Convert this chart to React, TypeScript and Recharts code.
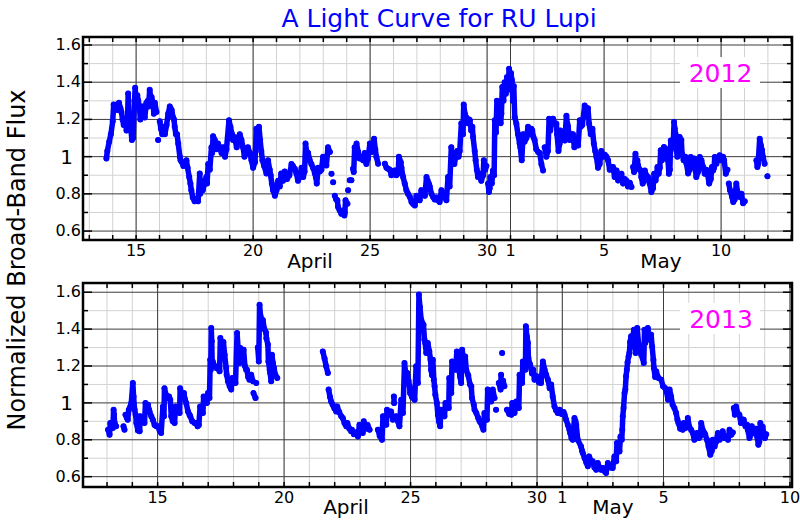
import React from "react";
import { LineChart, Line, XAxis, YAxis, ReferenceLine, ReferenceArea } from "recharts";

// time = day of April (May 1 = 31), flux = normalized broad-band flux
type Pt = [number, number | null];

const run2012a: Pt[] = [
  [13.73, 0.99], [13.77, 1.03], [13.85, 1.08], [13.92, 1.12], [14.0, 1.19], [14.04, 1.28], [14.1, 1.25], [14.17, 1.28],
  [14.22, 1.25], [14.27, 1.29], [14.33, 1.26], [14.37, 1.24], [14.42, 1.2], [14.47, 1.17], [14.53, 1.2], [14.59, 1.14],
  [14.63, 1.18], [14.66, 1.34], [14.68, 1.23], [14.73, 1.18], [14.78, 1.14], [14.82, 1.09], [14.87, 1.1], [14.93, 1.3],
  [14.96, 1.37], [15.0, 1.29], [15.05, 1.33], [15.09, 1.3], [15.14, 1.27], [15.18, 1.2], [15.23, 1.23], [15.3, 1.27],
  [15.37, 1.21], [15.44, 1.29], [15.5, 1.3], [15.53, 1.27], [15.58, 1.36], [15.62, 1.32], [15.66, 1.32], [15.72, 1.29],
  [15.76, 1.23], [15.8, 1.29], [15.87, 1.24], [15.9, null], [15.94, 1.09], [15.98, null], [16.01, 1.19], [16.06, 1.15],
  [16.12, 1.12], [16.18, 1.16], [16.23, 1.12], [16.3, 1.17], [16.37, 1.23], [16.44, 1.27], [16.47, 1.26], [16.52, 1.25],
  [16.58, 1.21], [16.62, 1.2], [16.65, 1.16], [16.7, 1.12], [16.75, 1.12], [16.8, 1.07], [16.87, 1.0], [16.9, 0.98],
  [16.96, 0.97], [17.02, 0.95], [17.08, 0.96], [17.15, 0.98], [17.2, 0.94], [17.27, 0.89], [17.32, 0.855], [17.36, 0.82],
  [17.42, 0.78], [17.5, 0.76], [17.58, 0.77], [17.65, 0.76], [17.72, 0.91], [17.74, 0.8], [17.79, 0.87], [17.85, 0.82],
  [17.93, 0.86], [18.0, 0.89], [18.03, 0.855], [18.08, 0.96], [18.15, 0.93], [18.22, 1.05], [18.25, 1.02], [18.29, 1.11],
  [18.36, 1.09], [18.43, 1.04], [18.5, 1.07], [18.57, 1.05], [18.65, 1.02], [18.72, 1.05], [18.8, 1.0], [18.86, 1.04],
  [18.97, 1.195], [19.03, 1.16], [19.1, 1.12], [19.14, 1.09], [19.2, 1.105], [19.3, 1.05], [19.36, 1.1], [19.43, 1.12],
  [19.5, 1.09], [19.57, 1.05], [19.63, 1.0], [19.7, 1.03], [19.78, 1.05], [19.86, 1.02], [19.93, 0.98], [20.0, 0.94],
  [20.08, 0.97],
];

const run2012b: Pt[] = [
  [20.14, 1.15], [20.2, 1.105], [20.25, 1.16], [20.3, 1.09], [20.35, 1.03], [20.4, 0.98], [20.47, 0.95], [20.57, 0.91],
  [20.64, 0.98], [20.71, 0.93], [20.75, 0.9], [20.8, 0.855], [20.85, 0.82], [20.93, 0.79], [21.0, 0.82], [21.07, 0.87],
  [21.14, 0.84], [21.2, 0.91], [21.28, 0.87], [21.35, 0.92], [21.45, 0.88], [21.55, 0.9], [21.64, 0.96], [21.7, 0.95],
  [21.78, 0.935], [21.85, 0.91], [21.92, 0.87], [21.99, 0.89], [22.07, 0.94], [22.14, 0.89], [22.2, 0.92], [22.24, 1.07],
  [22.28, 1.03], [22.35, 1.02], [22.42, 0.98], [22.49, 0.96], [22.56, 0.94], [22.64, 0.91], [22.68, 0.89], [22.72, 0.855],
  [22.78, 0.94], [22.85, 0.92], [22.92, 0.93], [22.99, 1.0], [23.06, 0.97], [23.13, 0.953], [23.2, 1.05], [23.28, 1.025],
  [23.31, null], [23.35, 0.908], [23.39, null], [23.42, 0.863], [23.46, null], [23.49, 0.79], [23.55, 0.77], [23.6, 0.765],
  [23.63, 0.73], [23.7, 0.71], [23.77, 0.693], [23.85, 0.71], [23.9, 0.684], [23.92, 0.7], [23.95, 0.765], [24.03, 0.747],
  [24.045, null], [24.06, 0.82], [24.09, null], [24.13, 0.873], [24.2, 0.873], [24.23, null], [24.27, 0.935], [24.3, 0.917],
  [24.34, 1.05], [24.38, 1.016], [24.42, 1.07], [24.49, 1.025], [24.55, 0.99], [24.62, 1.0], [24.7, 0.98], [24.77, 1.02],
  [24.84, 0.96], [24.91, 0.99], [24.99, 1.07], [25.06, 1.025], [25.13, 1.05], [25.17, 1.096], [25.22, 1.04], [25.27, 0.998],
  [25.34, 0.962], [25.45, null], [25.63, 0.962], [25.7, 0.94], [25.77, 0.935], [25.84, 0.93], [25.91, 0.9], [25.98, 0.92],
  [26.05, 0.926], [26.12, 0.9], [26.2, 0.91], [26.23, 1.0], [26.31, 0.97], [26.34, 0.94], [26.41, 0.89], [26.48, 0.855],
  [26.55, 0.82], [26.62, 0.8], [26.7, 0.783], [26.77, 0.756], [26.84, 0.745], [26.91, 0.738], [26.98, 0.79], [27.05, 0.77],
  [27.12, 0.765], [27.19, 0.82], [27.26, 0.8], [27.34, 0.79], [27.41, 0.89], [27.46, 0.87], [27.51, 0.855], [27.55, 0.84],
  [27.62, 0.8], [27.69, 0.783],
];

const run2012c: Pt[] = [
  [27.76, 0.77], [27.83, 0.78], [27.9, 0.765], [27.97, 0.756], [28.05, 0.82], [28.12, 0.78], [28.19, 0.8], [28.26, 0.765],
  [28.33, 0.89], [28.4, 0.84], [28.47, 1.05], [28.5, 0.96], [28.54, 1.02], [28.6, 0.96], [28.66, 1.0], [28.72, 1.03],
  [28.78, 1.0], [28.83, 1.03], [28.9, 1.18], [28.97, 1.12], [29.0, 1.28], [29.05, 1.23], [29.11, 1.21], [29.18, 1.18],
  [29.23, 1.2], [29.26, 1.195], [29.32, 1.14], [29.37, 1.16], [29.4, 1.105], [29.47, 1.03], [29.51, 0.98], [29.56, 0.93],
  [29.61, 0.89], [29.66, 0.91], [29.75, 0.87], [29.83, 0.9], [29.86, 0.98], [29.92, 0.93], [29.97, 0.95], [30.0, null],
  [30.04, 0.855], [30.08, 0.81], [30.11, 0.83], [30.14, 0.89], [30.2, 0.855], [30.25, 0.926], [30.3, 0.9], [30.33, 1.195],
  [30.38, 1.13], [30.42, 1.3], [30.48, 1.21], [30.54, 1.25], [30.58, 1.18], [30.61, 1.23], [30.65, 1.374], [30.7, 1.3],
  [30.75, 1.4], [30.8, 1.338], [30.85, 1.428], [30.9, 1.36], [30.94, 1.473], [30.98, 1.39], [31.02, 1.45], [31.06, 1.41],
  [31.1, 1.3], [31.14, 1.38], [31.18, 1.213], [31.25, 1.177], [31.32, 1.12], [31.39, 1.07], [31.42, 1.05], [31.48, 0.98],
  [31.54, 1.12], [31.6, 1.08], [31.68, 1.1], [31.75, 1.16], [31.82, 1.12], [31.89, 1.15], [31.93, 1.14], [31.98, 1.105],
  [32.03, 1.09], [32.1, 1.04], [32.18, 1.025], [32.25, 1.02], [32.32, 0.96], [32.39, 0.926], [32.42, null], [32.46, 1.05],
  [32.53, 1.0], [32.6, 1.03], [32.65, 1.204], [32.7, 1.14], [32.76, 1.19], [32.82, 1.204], [32.89, 1.18], [32.96, 1.177],
  [32.99, 1.12], [33.05, 1.03], [33.1, 1.07], [33.13, 1.14], [33.2, 1.09], [33.26, 1.12], [33.32, 1.087], [33.39, 1.22],
  [33.43, 1.177], [33.46, 1.16], [33.53, 1.09], [33.6, 1.12], [33.67, 1.12], [33.73, 1.05], [33.8, 1.09], [33.89, 1.06],
  [33.96, 1.195], [34.0, 1.16], [34.07, 1.17], [34.17, 1.275], [34.24, 1.22], [34.31, 1.26], [34.36, 1.177], [34.43, 1.12],
  [34.5, 1.15], [34.56, 1.07], [34.62, 1.03], [34.67, 1.0], [34.74, 0.94], [34.81, 0.96], [34.88, 1.03], [34.95, 1.0],
  [35.03, 1.01], [35.1, 1.0],
];

const run2012d: Pt[] = [
  [35.17, 0.98], [35.24, 0.93], [35.31, 0.944], [35.38, 0.944], [35.45, 0.89], [35.53, 0.926], [35.6, 0.872], [35.67, 0.9],
  [35.74, 0.908], [35.81, 0.855], [35.88, 0.88], [35.95, 0.872], [36.02, 0.84], [36.1, 0.86], [36.17, 0.837], [36.2, null],
  [36.24, 0.944], [36.28, 0.917], [36.34, 1.016], [36.38, 0.96], [36.42, 0.98], [36.45, 0.953], [36.52, 0.93], [36.57, 0.926],
  [36.59, 0.89], [36.65, 0.855], [36.71, 0.87], [36.74, 0.926], [36.8, 0.9], [36.88, 0.89], [36.95, 0.855], [37.02, 0.81],
  [37.09, 0.83], [37.14, 0.908], [37.2, 0.872], [37.24, 0.9], [37.28, 0.944], [37.33, 0.908], [37.38, 0.94], [37.42, 1.034],
  [37.47, 0.98], [37.52, 1.0], [37.56, 1.052], [37.62, 1.0], [37.67, 1.04], [37.71, 0.998], [37.73, 0.98], [37.77, 0.908],
  [37.81, 0.93], [37.85, 1.087], [37.9, 1.06], [37.95, 1.052], [37.99, 1.186], [38.02, 1.15], [38.05, 1.123], [38.09, 1.034],
  [38.13, 1.0], [38.16, 1.02], [38.23, 1.105], [38.27, 1.07], [38.3, 1.09], [38.33, 1.016], [38.4, 0.98], [38.47, 1.0],
  [38.52, 0.962], [38.59, 0.91], [38.66, 0.93], [38.7, 0.998], [38.77, 0.962], [38.85, 0.99], [38.87, 0.962], [38.94, 0.89],
  [39.02, 0.92], [39.09, 0.998], [39.13, 0.962], [39.16, 0.98], [39.23, 0.944], [39.3, 0.908], [39.37, 0.93], [39.42, 0.908],
  [39.49, 0.855], [39.56, 0.88], [39.61, 0.944], [39.66, 0.926], [39.7, 0.94], [39.73, 0.998], [39.8, 0.962], [39.87, 0.99],
  [39.94, 1.007], [40.01, 0.98], [40.08, 1.0], [40.13, 0.98], [40.2, 0.908], [40.27, 0.93], [40.3, null], [40.33, 0.855],
  [40.38, 0.82], [40.44, 0.801], [40.47, 0.783], [40.52, 0.756], [40.58, 0.77], [40.65, 0.855], [40.72, 0.8], [40.8, 0.783],
  [40.87, 0.801], [40.94, 0.75], [41.01, 0.76], [41.2, null], [41.51, 0.98], [41.55, 0.944], [41.58, 0.96], [41.65, 1.096],
  [41.7, 1.06], [41.75, 1.034], [41.79, 0.998], [41.86, 0.962], [41.92, null], [41.98, 0.894],
];

const run2013a: Pt[] = [
  [13.04, 0.855], [13.1, 0.827], [13.13, 0.891], [13.18, 0.87], [13.23, 0.864], [13.26, 0.963], [13.28, 0.936], [13.3, 0.891],
  [13.36, 0.873], [13.5, null], [13.65, 0.873], [13.69, 0.855], [13.71, null], [13.73, 0.936], [13.78, 0.92], [13.82, 0.909],
  [13.86, 0.963], [13.92, 0.98], [13.96, 1.0], [14.02, 1.108], [14.05, 1.035], [14.09, 0.963], [14.13, 0.936], [14.16, 0.891],
  [14.22, 0.85], [14.29, 0.846], [14.31, 0.927], [14.38, 0.9], [14.43, 0.91], [14.48, 0.891], [14.52, 0.999], [14.58, 0.97],
  [14.62, 0.99], [14.66, 0.963], [14.68, 0.954], [14.75, 0.927], [14.81, 0.909], [14.88, 0.88], [14.95, 0.873], [15.01, 0.873],
  [15.08, 0.85], [15.14, 0.837], [15.21, 0.981], [15.25, 0.927], [15.27, 1.08], [15.34, 1.04], [15.41, 1.026], [15.45, 1.035],
  [15.5, 1.017], [15.54, 0.927], [15.6, 0.9], [15.67, 0.891], [15.71, 0.981], [15.78, 0.95], [15.87, 0.945], [15.89, 1.08],
  [15.95, 1.05], [16.0, 1.035], [16.04, 1.053], [16.08, 1.02], [16.13, 0.999], [16.2, 0.954], [16.26, 0.936], [16.29, 0.927],
  [16.37, 0.9], [16.46, 0.891], [16.53, 0.891], [16.58, 0.873], [16.63, 0.88], [16.68, 0.981], [16.73, 0.95], [16.79, 0.945],
  [16.82, 1.035], [16.88, 1.0], [16.95, 0.999], [16.99, 1.053], [17.05, 1.026], [17.08, 1.234], [17.1, 1.18], [17.12, 1.406],
  [17.14, 1.334], [17.16, 1.2], [17.18, 1.225], [17.25, 1.2], [17.32, 1.189], [17.38, 1.189], [17.45, 1.171], [17.48, 1.352],
  [17.55, 1.29], [17.6, 1.33], [17.65, 1.261], [17.71, 1.189], [17.73, 1.153], [17.78, 1.117], [17.85, 1.09], [17.91, 1.072],
  [17.95, 1.135], [18.02, 1.11], [18.08, 1.108], [18.14, 1.379], [18.18, 1.3], [18.24, 1.216], [18.27, 1.297], [18.32, 1.25],
  [18.37, 1.234], [18.4, 1.288], [18.45, 1.2], [18.5, 1.18], [18.53, 1.18], [18.58, 1.14], [18.63, 1.126], [18.7, 1.153],
  [18.77, 1.117], [18.78, null], [18.79, 1.053], [18.87, 1.026], [18.88, null], [18.9, 1.108], [18.93, null],
];

const run2013b: Pt[] = [
  [18.96, 1.3], [19.0, 1.225], [19.03, 1.532], [19.07, 1.47], [19.12, 1.415], [19.16, 1.45], [19.22, 1.4], [19.29, 1.38],
  [19.3, 1.35], [19.36, 1.316], [19.38, 1.225], [19.43, 1.18], [19.45, 1.162], [19.49, 1.117], [19.52, 1.261], [19.56, 1.216],
  [19.6, 1.189], [19.66, 1.15], [19.73, 1.135], [20.5, null], [21.53, 1.279], [21.6, 1.24], [21.66, 1.2], [21.73, 1.162],
  [21.745, null], [21.76, 1.072], [21.82, 1.03], [21.86, 1.008], [21.92, 0.99], [21.99, 0.97], [22.06, 0.954], [22.1, 0.981],
  [22.18, 0.95], [22.26, 0.927], [22.32, 0.918], [22.39, 0.89], [22.46, 0.873], [22.5, 0.891], [22.58, 0.86], [22.65, 0.846],
  [22.68, 0.855], [22.76, 0.83], [22.84, 0.84], [22.92, 0.818], [22.98, 0.882], [23.05, 0.85], [23.11, 0.837], [23.15, 0.9],
  [23.22, 0.86], [23.3, 0.88], [23.38, 0.855], [23.5, null], [23.71, 0.855], [23.78, 0.82], [23.87, 0.8], [23.91, 0.927],
  [23.98, 0.9], [24.04, 0.882], [24.07, 0.963], [24.12, 0.95], [24.17, 0.936], [24.23, 0.954], [24.3, 0.909], [24.32, null],
  [24.34, 1.035], [24.35, 0.999], [24.38, null], [24.43, 0.927], [24.5, 0.9], [24.56, 0.873], [24.63, 1.017], [24.7, 0.945],
  [24.76, 1.216], [24.8, 1.17], [24.83, 1.126], [24.87, 1.162], [24.92, 1.12], [24.96, 1.09], [24.98, 1.053], [25.06, 1.03],
  [25.16, 1.017], [25.22, 1.198], [25.29, 1.108], [25.33, 1.587], [25.37, 1.52], [25.42, 1.451], [25.51, 1.424], [25.55, 1.343],
  [25.58, 1.325], [25.62, 1.27], [25.68, 1.325], [25.74, 1.28], [25.79, 1.234], [25.81, 1.18], [25.85, 1.15],
];

const run2013c: Pt[] = [
  [25.88, 1.234], [25.92, 1.126], [25.95, 1.09], [25.98, 1.044], [26.04, 0.999], [26.08, 0.936], [26.12, 0.9], [26.17, 0.873],
  [26.2, 0.963], [26.28, 0.94], [26.34, 0.927], [26.38, 0.999], [26.45, 0.98], [26.51, 0.972], [26.53, 1.135], [26.58, 1.09],
  [26.61, 1.053], [26.64, 1.225], [26.7, 1.2], [26.74, 1.189], [26.78, 1.18], [26.83, 1.279], [26.87, 1.25], [26.91, 1.18],
  [26.96, 1.14], [27.0, 1.108], [27.04, 1.288], [27.08, 1.25], [27.13, 1.216], [27.16, 1.252], [27.2, 1.18], [27.28, 1.15],
  [27.35, 1.1], [27.4, 1.09], [27.43, 1.026], [27.5, 0.99], [27.53, 0.963], [27.6, 0.945], [27.67, 0.92], [27.73, 0.9],
  [27.78, 0.891], [27.84, 0.87], [27.88, 0.855], [27.92, 0.945], [27.97, 0.92], [28.02, 0.909], [28.05, 1.072], [28.12, 1.03],
  [28.19, 1.008], [28.25, 1.072], [28.32, 1.026], [28.35, null], [28.38, 0.963], [28.42, null], [28.49, 1.108], [28.56, 1.072],
  [28.58, 1.153], [28.6, null], [28.62, 1.27], [28.64, null], [28.66, 1.12], [28.71, 1.09], [28.76, null], [28.81, 0.963],
  [28.9, 0.94], [28.98, 0.936], [29.02, 0.999], [29.07, 0.96], [29.11, 0.945], [29.18, 1.008], [29.24, 0.98], [29.28, 0.972],
  [29.31, 1.153], [29.36, 1.13], [29.41, 1.108], [29.44, 1.225], [29.5, 1.2], [29.54, 1.18], [29.56, 1.415], [29.6, 1.36],
  [29.64, 1.325], [29.66, 1.243], [29.7, 1.216], [29.73, 1.207], [29.8, 1.16], [29.85, 1.18], [29.9, 1.126], [29.99, 1.144],
  [30.08, 1.11], [30.16, 1.108], [30.23, 1.225], [30.3, 1.18], [30.36, 1.153], [30.43, 1.126], [30.5, 1.08], [30.56, 1.1],
  [30.62, 1.035], [30.69, 0.981], [30.75, 0.96], [30.82, 0.945], [30.89, 0.963], [30.97, 0.94], [31.05, 0.95], [31.09, 0.936],
  [31.15, 0.909], [31.22, 0.88], [31.28, 0.855], [31.31, 0.837], [31.36, 0.81], [31.41, 0.8], [31.48, 0.918], [31.52, 0.9],
  [31.55, 0.882], [31.61, 0.8], [31.74, 0.764], [31.78, 0.74], [31.81, 0.728], [31.88, 0.701], [31.95, 0.675], [32.01, 0.656],
  [32.06, 0.71], [32.14, 0.683], [32.2, 0.683], [32.27, 0.65], [32.34, 0.638], [32.4, 0.674], [32.47, 0.65], [32.53, 0.638],
  [32.6, 0.647], [32.67, 0.63], [32.73, 0.62],
];

const run2013d: Pt[] = [
  [32.8, 0.674], [32.9, 0.65], [32.99, 0.647], [33.06, 0.71], [33.13, 0.683], [33.16, 0.782], [33.22, 0.76], [33.26, 0.737],
  [33.3, 0.818], [33.35, 0.8], [33.37, 0.855], [33.39, 0.927], [33.42, 0.972], [33.46, 1.053], [33.49, 1.072], [33.52, 1.144],
  [33.55, 1.18], [33.58, 1.22], [33.62, 1.252], [33.65, 1.27], [33.68, 1.33], [33.72, 1.361], [33.75, 1.306], [33.79, 1.36],
  [33.83, 1.397], [33.86, 1.343], [33.9, 1.27], [33.92, 1.3], [33.96, 1.406], [34.01, 1.325], [34.05, 1.297], [34.12, 1.261],
  [34.18, 1.24], [34.22, 1.216], [34.25, 1.397], [34.28, 1.325], [34.31, 1.36], [34.38, 1.406], [34.45, 1.343], [34.51, 1.37],
  [34.55, 1.306], [34.6, 1.234], [34.62, 1.189], [34.67, 1.14], [34.71, 1.171], [34.8, 1.135], [34.91, 1.126], [34.98, 1.09],
  [35.06, 1.081], [35.12, 1.06], [35.18, 1.017], [35.24, 1.072], [35.3, 1.035], [35.36, 0.99], [35.43, 0.972], [35.5, 0.945],
  [35.55, 0.909], [35.59, 0.891], [35.66, 0.86], [35.76, 0.855], [35.8, 0.891], [35.87, 0.864], [35.93, 0.87], [35.96, 0.918],
  [36.02, 0.87], [36.09, 0.855], [36.16, 0.837], [36.22, 0.8], [36.29, 0.82], [36.33, 0.837], [36.4, 0.809], [36.46, 0.82],
  [36.49, 0.891], [36.56, 0.85], [36.62, 0.837], [36.65, 0.827], [36.72, 0.8], [36.78, 0.764], [36.85, 0.719], [36.91, 0.74],
  [36.95, 0.8], [37.02, 0.764], [37.08, 0.79], [37.15, 0.837], [37.22, 0.8], [37.28, 0.82], [37.34, 0.846], [37.41, 0.809],
  [37.48, 0.818], [37.55, 0.8], [37.61, 0.855], [37.68, 0.827], [37.74, 0.84], [37.76, null], [37.78, 0.972], [37.82, 0.936],
  [37.87, 0.981], [37.93, 0.945], [38.0, 0.936], [38.06, 0.891], [38.13, 0.91], [38.17, 0.909], [38.24, 0.873], [38.31, 0.88],
  [38.33, 0.855], [38.4, 0.809], [38.46, 0.83], [38.49, 0.873], [38.57, 0.837], [38.66, 0.86], [38.7, 0.818], [38.75, 0.773],
  [38.79, 0.79], [38.83, 0.891], [38.88, 0.855], [38.92, 0.87], [38.96, 0.837], [39.01, 0.809], [39.06, 0.83],
];

const flux2012 = [...run2012a, ...run2012b, ...run2012c, ...run2012d];
const flux2013 = [...run2013a, ...run2013b, ...run2013c, ...run2013d];

const dateTicks = [15, 20, 25, 30, 31, 35, 40];
const dateLabels = ["15", "20", "25", "30", "1", "5", "10"];
const fluxTicks = [0.6, 0.8, 1, 1.2, 1.4, 1.6];
const fluxLabels = ["0.6", "0.8", "1", "1.2", "1.4", "1.6"];
const fluxMinor = [0.7, 0.9, 1.1, 1.3, 1.5];

const FONT = "'DejaVu Sans', sans-serif";
const BLUE = "#0000ff";
const LEFT = 83;
const RIGHT = 8;

const FluxTick = (props: any) => {
  const { x, y, payload } = props;
  const isOne = payload.value === 1;
  return (
    <text
      x={isOne ? x - 8 : x}
      y={y}
      dy={isOne ? 7 : 5}
      textAnchor="end"
      fontSize={isOne ? 20 : 16}
      fontFamily={FONT}
      fill="#000"
    >
      {fluxLabels[fluxTicks.indexOf(payload.value)]}
    </text>
  );
};

type PanelProps = {
  data: Pt[];
  xDomain: [number, number];
  yDomain: [number, number];
  top: number;
  height: number;
  marginTop: number;
  axisHeight: number;
  firstDay: number;
  lastDay: number;
};

const Panel = ({ data, xDomain, yDomain, top, height, marginTop, axisHeight, firstDay, lastDay }: PanelProps) => {
  const rows = data.map(([t, f]) => ({ t, f }));
  const plotW = 800 - LEFT - RIGHT;
  const plotH = height - marginTop - axisHeight;
  const xPx = (xDomain[1] - xDomain[0]) / plotW;
  const yPx = (yDomain[1] - yDomain[0]) / plotH;

  const days: number[] = [];
  for (let d = firstDay; d <= lastDay; d++) days.push(d);
  const fluxAll = [...fluxTicks, ...fluxMinor];

  return (
    <div style={{ position: "absolute", left: 0, top }}>
      <LineChart width={800} height={height} data={rows} margin={{ top: marginTop, right: RIGHT, bottom: 0, left: 0 }}>
        <XAxis
          type="number"
          dataKey="t"
          domain={xDomain}
          allowDataOverflow
          ticks={dateTicks}
          interval={0}
          tickFormatter={(v: number) => dateLabels[dateTicks.indexOf(v)]}
          axisLine={false}
          tickLine={false}
          tickSize={3}
          tickMargin={2}
          height={axisHeight}
          tick={{ fontSize: 16, fill: "#000", fontFamily: FONT }}
        />
        <YAxis
          type="number"
          domain={yDomain}
          allowDataOverflow
          ticks={fluxTicks}
          interval={0}
          width={LEFT}
          axisLine={false}
          tickLine={false}
          tickSize={1}
          tickMargin={1}
          tick={<FluxTick />}
        />

        {days.map((d) => (
          <ReferenceLine key={`vm${d}`} x={d} stroke="#d2d2d2" strokeWidth={1} zIndex={10} />
        ))}
        {fluxMinor.map((v) => (
          <ReferenceLine key={`hm${v}`} y={v} stroke="#d2d2d2" strokeWidth={1} zIndex={10} />
        ))}
        {dateTicks.map((d) => (
          <ReferenceLine key={`vM${d}`} x={d} stroke="#3c3c3c" strokeWidth={1} zIndex={20} />
        ))}
        {fluxTicks.map((v) => (
          <ReferenceLine key={`hM${v}`} y={v} stroke="#3c3c3c" strokeWidth={1} zIndex={20} />
        ))}

        <Line
          dataKey="f"
          type="linear"
          stroke={BLUE}
          strokeWidth={5.5}
          strokeLinejoin="round"
          strokeLinecap="round"
          dot={{ r: 3, fill: BLUE, stroke: "none" }}
          activeDot={false}
          connectNulls={false}
          isAnimationActive={false}
          zIndex={500}
        />

        {days.map((d) => (
          <ReferenceLine
            key={`tb${d}`}
            segment={[{ x: d, y: yDomain[0] }, { x: d, y: yDomain[0] + 5 * yPx }]}
            stroke="#000"
            strokeWidth={1.5}
            zIndex={600}
          />
        ))}
        {days.map((d) => (
          <ReferenceLine
            key={`tt${d}`}
            segment={[{ x: d, y: yDomain[1] }, { x: d, y: yDomain[1] - 5 * yPx }]}
            stroke="#000"
            strokeWidth={1.5}
            zIndex={600}
          />
        ))}
        {fluxAll.map((v) => {
          const len = (fluxTicks.includes(v) ? 9 : 5) * xPx;
          return (
            <ReferenceLine
              key={`tl${v}`}
              segment={[{ x: xDomain[0], y: v }, { x: xDomain[0] + len, y: v }]}
              stroke="#000"
              strokeWidth={1.5}
              zIndex={600}
            />
          );
        })}
        {fluxAll.map((v) => {
          const len = (fluxTicks.includes(v) ? 9 : 5) * xPx;
          return (
            <ReferenceLine
              key={`tr${v}`}
              segment={[{ x: xDomain[1], y: v }, { x: xDomain[1] - len, y: v }]}
              stroke="#000"
              strokeWidth={1.5}
              zIndex={600}
            />
          );
        })}

        <ReferenceArea
          x1={xDomain[0]}
          x2={xDomain[1]}
          y1={yDomain[0]}
          y2={yDomain[1]}
          fill="none"
          fillOpacity={0}
          stroke="#000"
          strokeWidth={2.5}
          zIndex={700}
        />
      </LineChart>
    </div>
  );
};

const App = () => {
  return (
    <div style={{ position: "absolute", left: 0, top: 0, width: 800, height: 520, background: "#fff" }}>
      <Panel
        data={flux2012}
        xDomain={[12.73, 43.03]}
        yDomain={[0.552, 1.643]}
        top={0}
        height={260}
        marginTop={37}
        axisHeight={20}
        firstDay={13}
        lastDay={43}
      />
      <Panel
        data={flux2013}
        xDomain={[12.05, 40.08]}
        yDomain={[0.544, 1.65]}
        top={260}
        height={257}
        marginTop={23}
        axisHeight={30}
        firstDay={13}
        lastDay={40}
      />
      <svg width={800} height={520} style={{ position: "absolute", left: 0, top: 0, pointerEvents: "none" }}>
        <text x={439} y={27} textAnchor="middle" fontSize={25} fontFamily={FONT} fill={BLUE}>
          A Light Curve for RU Lupi
        </text>
        <text
          x={25}
          y={260}
          transform="rotate(-90 25 260)"
          textAnchor="middle"
          fontSize={24}
          fontFamily={FONT}
          fill="#000"
        >
          Normalized Broad-Band Flux
        </text>
        <text x={310} y={268} textAnchor="middle" fontSize={20} fontFamily={FONT} fill="#000">April</text>
        <text x={661} y={268} textAnchor="middle" fontSize={20} fontFamily={FONT} fill="#000">May</text>
        <text x={346} y={514} textAnchor="middle" fontSize={20} fontFamily={FONT} fill="#000">April</text>
        <text x={613} y={514} textAnchor="middle" fontSize={20} fontFamily={FONT} fill="#000">May</text>

        <rect x={680} y={57} width={80} height={31} fill="#fff" />
        <text x={720.5} y={82} textAnchor="middle" fontSize={25} fontFamily={FONT} fill="#ff00ff">2012</text>
        <rect x={680} y={303} width={80} height={31} fill="#fff" />
        <text x={721} y={328} textAnchor="middle" fontSize={25} fontFamily={FONT} fill="#ff00ff">2013</text>
      </svg>
    </div>
  );
};

export default App;
